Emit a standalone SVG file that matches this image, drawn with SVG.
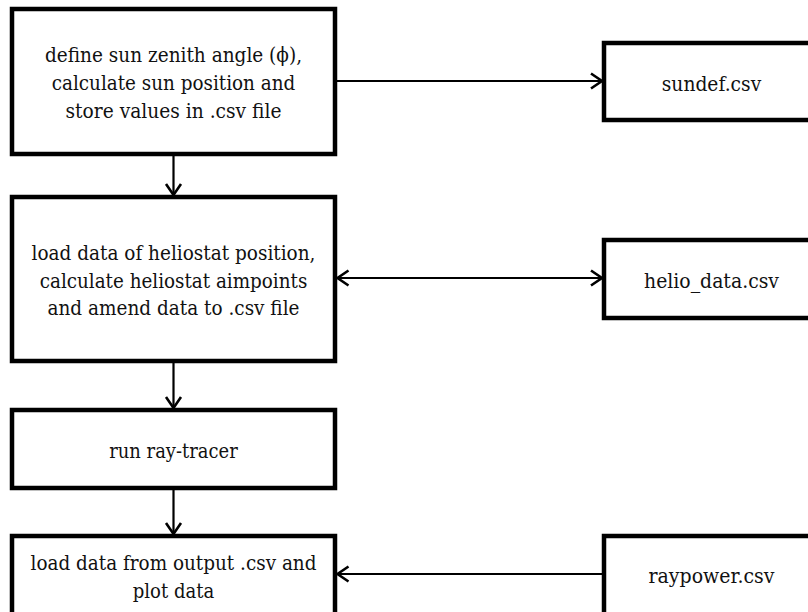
<svg xmlns="http://www.w3.org/2000/svg" width="808" height="612" viewBox="0 0 808 612">
<style>
.box{fill:#fff;stroke:#000;stroke-width:4.5}
.con{stroke:#000;stroke-width:2.2;fill:none}
text{font-family:'DejaVu Serif',serif;font-size:21px;fill:#111;text-anchor:middle}
</style>
<defs>
<marker id="arr" markerUnits="userSpaceOnUse" markerWidth="16" markerHeight="20" refX="12.5" refY="9" orient="auto-start-reverse">
<path d="M1.5,1.5 L12.5,9 L1.5,16.5" fill="none" stroke="#000" stroke-width="2.6"/>
</marker>
</defs>
<rect width="808" height="612" fill="#fff"/>
<g id="connectors">
<line class="con" x1="337" y1="81" x2="602" y2="81" marker-end="url(#arr)"/>
<line class="con" x1="337.5" y1="278" x2="602" y2="278" marker-start="url(#arr)" marker-end="url(#arr)"/>
<line class="con" x1="604" y1="574" x2="337.5" y2="574" marker-end="url(#arr)"/>
<line class="con" x1="173.5" y1="156" x2="173.5" y2="195" marker-end="url(#arr)"/>
<line class="con" x1="173.5" y1="363" x2="173.5" y2="408" marker-end="url(#arr)"/>
<line class="con" x1="173.5" y1="490" x2="173.5" y2="534" marker-end="url(#arr)"/>
</g>
<g id="n_define">
<rect class="box" x="12" y="9" width="323" height="145"/>
<text x="173.5" y="62" textLength="257" lengthAdjust="spacingAndGlyphs">define sun zenith angle (ϕ),</text>
<text x="173.5" y="90" textLength="243.5" lengthAdjust="spacingAndGlyphs">calculate sun position and</text>
<text x="173.5" y="118" textLength="216" lengthAdjust="spacingAndGlyphs">store values in .csv file</text>
</g>
<g id="n_load_helio">
<rect class="box" x="12" y="197" width="323" height="164"/>
<text x="173.5" y="260" textLength="284" lengthAdjust="spacingAndGlyphs">load data of heliostat position,</text>
<text x="173.5" y="288" textLength="267.6" lengthAdjust="spacingAndGlyphs">calculate heliostat aimpoints</text>
<text x="173.5" y="315" textLength="252" lengthAdjust="spacingAndGlyphs">and amend data to .csv file</text>
</g>
<g id="n_raytracer">
<rect class="box" x="12" y="410" width="323" height="78"/>
<text x="173.5" y="458" textLength="128.5" lengthAdjust="spacingAndGlyphs">run ray-tracer</text>
</g>
<g id="n_plot">
<rect class="box" x="12" y="536" width="323" height="110"/>
<text x="173.5" y="570" textLength="286" lengthAdjust="spacingAndGlyphs">load data from output .csv and</text>
<text x="173.5" y="598" textLength="81.6" lengthAdjust="spacingAndGlyphs">plot data</text>
</g>
<g id="n_sundef">
<rect class="box" x="604" y="43" width="230" height="77"/>
<text x="711.5" y="91" textLength="99.5" lengthAdjust="spacingAndGlyphs">sundef.csv</text>
</g>
<g id="n_helio">
<rect class="box" x="604" y="240" width="230" height="78"/>
<text x="711.5" y="288" textLength="135" lengthAdjust="spacingAndGlyphs">helio_data.csv</text>
</g>
<g id="n_raypower">
<rect class="box" x="604" y="536" width="230" height="110"/>
<text x="711.5" y="583" textLength="126" lengthAdjust="spacingAndGlyphs">raypower.csv</text>
</g>
</svg>
